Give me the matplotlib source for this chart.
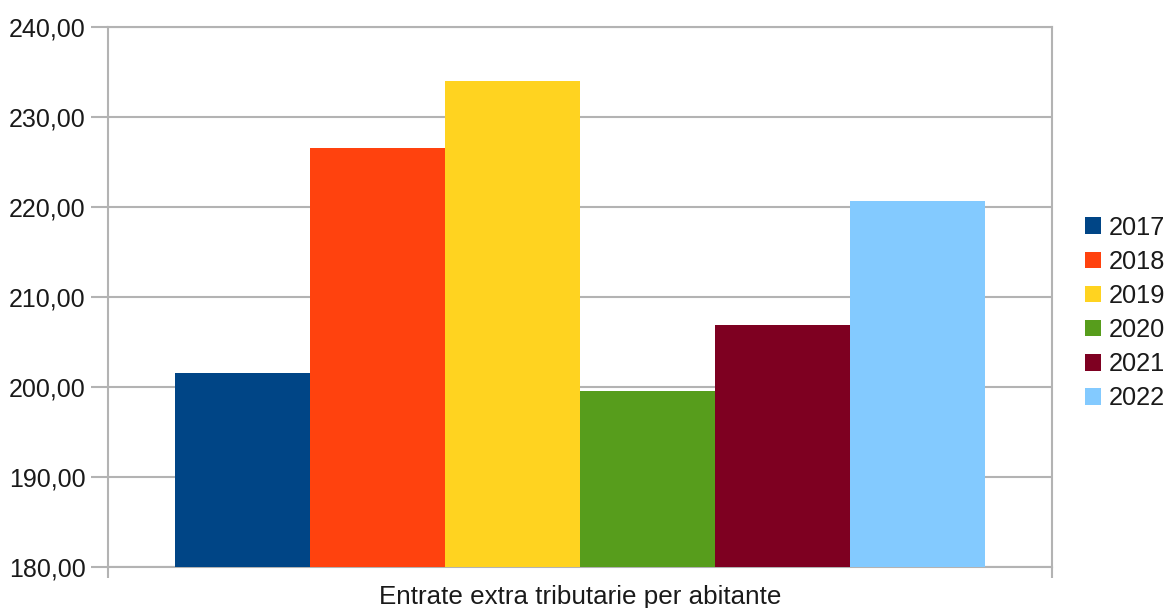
import matplotlib
matplotlib.use("Agg")
import matplotlib.pyplot as plt
from matplotlib.patches import Patch
from matplotlib.ticker import FuncFormatter

plt.rcParams['font.family'] = ['Liberation Sans', 'DejaVu Sans']

category = "Entrate extra tributarie per abitante"
years = ["2017", "2018", "2019", "2020", "2021", "2022"]
values = [201.55, 226.55, 233.95, 199.55, 206.85, 220.65]
colors = ["#004586", "#ff420e", "#ffd320", "#579d1c", "#7e0021", "#83caff"]

W, H = 1169, 608
fig = plt.figure(figsize=(W / 100, H / 100), dpi=100)
ax = fig.add_axes([108 / W, 1 - 567 / H, (1052 - 108) / W, (567 - 27) / H])

grid_c = "#b3b3b3"
text_c = "#1a1a1a"
n = len(years)
bw = 0.859 / n
for i, (y, v, c) in enumerate(zip(years, values, colors)):
    x = -0.4295 + bw * (i + 0.5)
    ax.bar(x, v - 180, bottom=180, width=bw, color=c, label=y, zorder=3,
           linewidth=0)

ax.set_xlim(-0.5, 0.5)
ax.set_ylim(180, 240)
ax.set_yticks(range(180, 241, 10))
ax.yaxis.set_major_formatter(FuncFormatter(lambda v, p: f"{v:.2f}".replace(".", ",")))
ax.yaxis.grid(True, color=grid_c, linewidth=1.5, zorder=0)
ax.set_axisbelow(True)

ax.set_xticks([-0.5, 0.5])
ax.set_xticklabels(["", ""])
ax.tick_params(axis="x", direction="out", length=8, width=1.5, color=grid_c)
ax.tick_params(axis="y", direction="out", length=12, width=1.5, color=grid_c,
               labelsize=18, labelcolor=text_c, pad=4)
ax.text(0.5, -0.033, category, transform=ax.transAxes, ha="center", va="top",
        fontsize=18.7, color=text_c)

for s in ax.spines.values():
    s.set_color(grid_c)
    s.set_linewidth(1.5)

handles = [Patch(facecolor=c, edgecolor="none", label=y) for y, c in zip(years, colors)]
fig.legend(handles=handles, loc="center left", bbox_to_anchor=(1085 / W, 1 - 313 / H),
           frameon=False, fontsize=18.3, handlelength=0.62, handleheight=0.62,
           handletextpad=0.3, labelspacing=0.4, borderpad=0, borderaxespad=0,
           labelcolor=text_c)

fig.savefig("out.png", dpi=100)
